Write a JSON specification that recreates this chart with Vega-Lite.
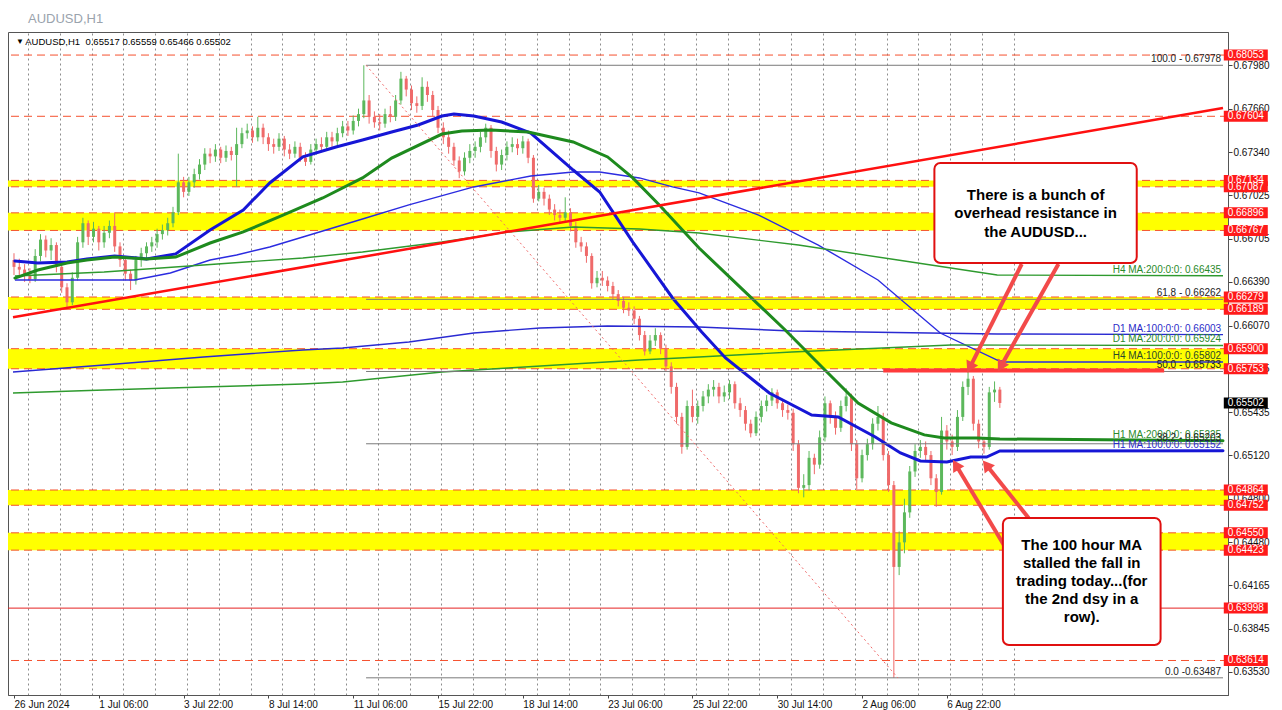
{
"$schema": "https://vega.github.io/schema/vega-lite/v6.json",
"width": 1220, "height": 663,
"autosize": {"type": "none"},
"padding": {"left": 8, "top": 32, "right": 54, "bottom": 15},
"background": "#ffffff",
"title": {"text": "AUDUSD,H1", "anchor": "start", "frame": "group", "offset": -4, "dx": 20, "fontSize": 13, "fontWeight": "normal", "color": "#9aa3ad", "font": "Liberation Sans", "baseline": "alphabetic"},
"config": {"font": "Liberation Sans", "view": {"stroke": "#555555", "strokeWidth": 1}},
"data": {"values": [{}]},
"datasets": {
"candles": [
{"t":0,"o":0.6655,"h":0.6660,"l":0.6644,"c":0.6650},
{"t":4,"o":0.6650,"h":0.6656,"l":0.6643,"c":0.6648},
{"t":8,"o":0.6648,"h":0.6652,"l":0.6639,"c":0.6644},
{"t":12,"o":0.6644,"h":0.6649,"l":0.6638,"c":0.6641},
{"t":16,"o":0.6641,"h":0.6663,"l":0.6639,"c":0.6658},
{"t":20,"o":0.6658,"h":0.6674,"l":0.6654,"c":0.6670},
{"t":24,"o":0.6670,"h":0.6673,"l":0.6657,"c":0.6662},
{"t":28,"o":0.6662,"h":0.6671,"l":0.6655,"c":0.6666},
{"t":32,"o":0.6666,"h":0.6668,"l":0.6646,"c":0.6650},
{"t":36,"o":0.6650,"h":0.6654,"l":0.6631,"c":0.6635},
{"t":40,"o":0.6635,"h":0.6638,"l":0.6620,"c":0.6624},
{"t":44,"o":0.6624,"h":0.6646,"l":0.6622,"c":0.6642},
{"t":48,"o":0.6642,"h":0.6672,"l":0.6640,"c":0.6668},
{"t":52,"o":0.6668,"h":0.6686,"l":0.6664,"c":0.6682},
{"t":56,"o":0.6682,"h":0.6684,"l":0.6666,"c":0.6672},
{"t":60,"o":0.6672,"h":0.6683,"l":0.6668,"c":0.6678},
{"t":64,"o":0.6678,"h":0.6680,"l":0.6662,"c":0.6668},
{"t":68,"o":0.6668,"h":0.6680,"l":0.6664,"c":0.6675},
{"t":72,"o":0.6675,"h":0.6684,"l":0.6671,"c":0.6680},
{"t":76,"o":0.6680,"h":0.6690,"l":0.6661,"c":0.6665},
{"t":80,"o":0.6665,"h":0.6668,"l":0.6650,"c":0.6655},
{"t":84,"o":0.6655,"h":0.6658,"l":0.6640,"c":0.6645},
{"t":88,"o":0.6645,"h":0.6648,"l":0.6633,"c":0.6640},
{"t":92,"o":0.6640,"h":0.6658,"l":0.6637,"c":0.6655},
{"t":96,"o":0.6655,"h":0.6664,"l":0.6650,"c":0.6660},
{"t":100,"o":0.6660,"h":0.6668,"l":0.6655,"c":0.6665},
{"t":104,"o":0.6665,"h":0.6672,"l":0.6661,"c":0.6668},
{"t":108,"o":0.6668,"h":0.6678,"l":0.6664,"c":0.6674},
{"t":112,"o":0.6674,"h":0.6681,"l":0.6670,"c":0.6677},
{"t":116,"o":0.6677,"h":0.6686,"l":0.6673,"c":0.6682},
{"t":120,"o":0.6682,"h":0.6694,"l":0.6679,"c":0.6690},
{"t":124,"o":0.6690,"h":0.6733,"l":0.6688,"c":0.6712},
{"t":128,"o":0.6712,"h":0.6716,"l":0.6701,"c":0.6705},
{"t":132,"o":0.6705,"h":0.6716,"l":0.6702,"c":0.6712},
{"t":136,"o":0.6712,"h":0.6722,"l":0.6708,"c":0.6718},
{"t":140,"o":0.6718,"h":0.6729,"l":0.6714,"c":0.6725},
{"t":144,"o":0.6725,"h":0.6737,"l":0.6721,"c":0.6733},
{"t":148,"o":0.6733,"h":0.6737,"l":0.6726,"c":0.6731},
{"t":152,"o":0.6731,"h":0.6740,"l":0.6727,"c":0.6736},
{"t":156,"o":0.6736,"h":0.6738,"l":0.6726,"c":0.6730},
{"t":160,"o":0.6730,"h":0.6739,"l":0.6727,"c":0.6735},
{"t":164,"o":0.6735,"h":0.6738,"l":0.6728,"c":0.6732},
{"t":168,"o":0.6732,"h":0.6752,"l":0.6709,"c":0.6740},
{"t":172,"o":0.6740,"h":0.6752,"l":0.6737,"c":0.6748},
{"t":176,"o":0.6748,"h":0.6755,"l":0.6744,"c":0.6750},
{"t":180,"o":0.6750,"h":0.6753,"l":0.6741,"c":0.6745},
{"t":184,"o":0.6745,"h":0.6760,"l":0.6742,"c":0.6752},
{"t":188,"o":0.6752,"h":0.6755,"l":0.6740,"c":0.6745},
{"t":192,"o":0.6745,"h":0.6748,"l":0.6735,"c":0.6740},
{"t":196,"o":0.6740,"h":0.6744,"l":0.6733,"c":0.6738},
{"t":200,"o":0.6738,"h":0.6748,"l":0.6735,"c":0.6744},
{"t":204,"o":0.6744,"h":0.6746,"l":0.6731,"c":0.6736},
{"t":208,"o":0.6736,"h":0.6740,"l":0.6729,"c":0.6733},
{"t":212,"o":0.6733,"h":0.6742,"l":0.6730,"c":0.6738},
{"t":216,"o":0.6738,"h":0.6741,"l":0.6727,"c":0.6730},
{"t":220,"o":0.6730,"h":0.6734,"l":0.6724,"c":0.6727},
{"t":224,"o":0.6727,"h":0.6740,"l":0.6725,"c":0.6736},
{"t":228,"o":0.6736,"h":0.6744,"l":0.6732,"c":0.6740},
{"t":232,"o":0.6740,"h":0.6745,"l":0.6734,"c":0.6738},
{"t":236,"o":0.6738,"h":0.6749,"l":0.6735,"c":0.6745},
{"t":240,"o":0.6745,"h":0.6749,"l":0.6738,"c":0.6742},
{"t":244,"o":0.6742,"h":0.6752,"l":0.6739,"c":0.6748},
{"t":248,"o":0.6748,"h":0.6757,"l":0.6745,"c":0.6753},
{"t":252,"o":0.6753,"h":0.6757,"l":0.6746,"c":0.6750},
{"t":256,"o":0.6750,"h":0.6761,"l":0.6747,"c":0.6757},
{"t":260,"o":0.6757,"h":0.6766,"l":0.6753,"c":0.6762},
{"t":264,"o":0.6762,"h":0.67978,"l":0.6759,"c":0.6772},
{"t":268,"o":0.6772,"h":0.6776,"l":0.6755,"c":0.6760},
{"t":272,"o":0.6760,"h":0.6764,"l":0.6752,"c":0.6756},
{"t":276,"o":0.6756,"h":0.6762,"l":0.6750,"c":0.6755},
{"t":280,"o":0.6755,"h":0.6766,"l":0.6752,"c":0.6762},
{"t":284,"o":0.6762,"h":0.6768,"l":0.6756,"c":0.6760},
{"t":288,"o":0.6760,"h":0.6776,"l":0.6757,"c":0.6772},
{"t":292,"o":0.6772,"h":0.6793,"l":0.6769,"c":0.6788},
{"t":296,"o":0.6788,"h":0.6790,"l":0.6775,"c":0.6780},
{"t":300,"o":0.6780,"h":0.6783,"l":0.6765,"c":0.6770},
{"t":304,"o":0.6770,"h":0.6775,"l":0.6763,"c":0.6768},
{"t":308,"o":0.6768,"h":0.6789,"l":0.6765,"c":0.6782},
{"t":312,"o":0.6782,"h":0.6786,"l":0.6771,"c":0.6776},
{"t":316,"o":0.6776,"h":0.6779,"l":0.6760,"c":0.6765},
{"t":320,"o":0.6765,"h":0.6768,"l":0.6748,"c":0.6752},
{"t":324,"o":0.6752,"h":0.6756,"l":0.6740,"c":0.6745},
{"t":328,"o":0.6745,"h":0.6750,"l":0.6733,"c":0.6738},
{"t":332,"o":0.6738,"h":0.6741,"l":0.6724,"c":0.6728},
{"t":336,"o":0.6728,"h":0.6731,"l":0.6715,"c":0.6720},
{"t":340,"o":0.6720,"h":0.6734,"l":0.6717,"c":0.6730},
{"t":344,"o":0.6730,"h":0.6740,"l":0.6726,"c":0.6735},
{"t":348,"o":0.6735,"h":0.6742,"l":0.6730,"c":0.6738},
{"t":352,"o":0.6738,"h":0.6749,"l":0.6734,"c":0.6745},
{"t":356,"o":0.6745,"h":0.6755,"l":0.6741,"c":0.6752},
{"t":360,"o":0.6752,"h":0.6754,"l":0.6730,"c":0.6735},
{"t":364,"o":0.6735,"h":0.6738,"l":0.6720,"c":0.6725},
{"t":368,"o":0.6725,"h":0.6736,"l":0.6721,"c":0.6732},
{"t":372,"o":0.6732,"h":0.6742,"l":0.6728,"c":0.6738},
{"t":376,"o":0.6738,"h":0.6745,"l":0.6734,"c":0.6740},
{"t":380,"o":0.6740,"h":0.6744,"l":0.6732,"c":0.6737},
{"t":384,"o":0.6737,"h":0.6746,"l":0.6733,"c":0.6742},
{"t":388,"o":0.6742,"h":0.6744,"l":0.6726,"c":0.6730},
{"t":392,"o":0.6730,"h":0.6732,"l":0.6697,"c":0.6700},
{"t":396,"o":0.6700,"h":0.6710,"l":0.6698,"c":0.6705},
{"t":400,"o":0.6705,"h":0.6708,"l":0.6695,"c":0.6700},
{"t":404,"o":0.6700,"h":0.6703,"l":0.6688,"c":0.6692},
{"t":408,"o":0.6692,"h":0.6696,"l":0.6684,"c":0.6688},
{"t":412,"o":0.6688,"h":0.6692,"l":0.6682,"c":0.6686},
{"t":416,"o":0.6686,"h":0.6701,"l":0.6683,"c":0.6690},
{"t":420,"o":0.6690,"h":0.6693,"l":0.6676,"c":0.6680},
{"t":424,"o":0.6680,"h":0.6683,"l":0.6664,"c":0.6668},
{"t":428,"o":0.6668,"h":0.6672,"l":0.6661,"c":0.6665},
{"t":432,"o":0.6665,"h":0.6668,"l":0.6653,"c":0.6658},
{"t":436,"o":0.6658,"h":0.6660,"l":0.6634,"c":0.6638},
{"t":440,"o":0.6638,"h":0.6647,"l":0.6635,"c":0.6642},
{"t":444,"o":0.6642,"h":0.6647,"l":0.6636,"c":0.6640},
{"t":448,"o":0.6640,"h":0.6643,"l":0.6632,"c":0.6636},
{"t":452,"o":0.6636,"h":0.6639,"l":0.6626,"c":0.6630},
{"t":456,"o":0.6630,"h":0.6633,"l":0.6621,"c":0.6625},
{"t":460,"o":0.6625,"h":0.6628,"l":0.6616,"c":0.6620},
{"t":464,"o":0.6620,"h":0.6624,"l":0.6614,"c":0.6618},
{"t":468,"o":0.6618,"h":0.6621,"l":0.6608,"c":0.6612},
{"t":472,"o":0.6612,"h":0.6614,"l":0.6596,"c":0.6600},
{"t":476,"o":0.6600,"h":0.6603,"l":0.6585,"c":0.6588},
{"t":480,"o":0.6588,"h":0.6600,"l":0.6586,"c":0.6596},
{"t":484,"o":0.6596,"h":0.6605,"l":0.6592,"c":0.6600},
{"t":488,"o":0.6600,"h":0.6602,"l":0.6586,"c":0.6590},
{"t":492,"o":0.6590,"h":0.6593,"l":0.6573,"c":0.6577},
{"t":496,"o":0.6577,"h":0.6580,"l":0.6557,"c":0.6562},
{"t":500,"o":0.6562,"h":0.6565,"l":0.6535,"c":0.6540},
{"t":504,"o":0.6540,"h":0.6543,"l":0.6513,"c":0.6518},
{"t":508,"o":0.6518,"h":0.6552,"l":0.6516,"c":0.6548},
{"t":512,"o":0.6548,"h":0.6560,"l":0.6536,"c":0.6540},
{"t":516,"o":0.6540,"h":0.6552,"l":0.6535,"c":0.6548},
{"t":520,"o":0.6548,"h":0.6559,"l":0.6544,"c":0.6555},
{"t":524,"o":0.6555,"h":0.6564,"l":0.6550,"c":0.6560},
{"t":528,"o":0.6560,"h":0.6567,"l":0.6555,"c":0.6562},
{"t":532,"o":0.6562,"h":0.6565,"l":0.6550,"c":0.6555},
{"t":536,"o":0.6555,"h":0.6563,"l":0.6551,"c":0.6558},
{"t":540,"o":0.6558,"h":0.6567,"l":0.6553,"c":0.6564},
{"t":544,"o":0.6564,"h":0.6566,"l":0.6546,"c":0.6550},
{"t":548,"o":0.6550,"h":0.6554,"l":0.6540,"c":0.6545},
{"t":552,"o":0.6545,"h":0.6548,"l":0.6530,"c":0.6535},
{"t":556,"o":0.6535,"h":0.6538,"l":0.6525,"c":0.6528},
{"t":560,"o":0.6528,"h":0.6544,"l":0.6526,"c":0.6540},
{"t":564,"o":0.6540,"h":0.6552,"l":0.6536,"c":0.6548},
{"t":568,"o":0.6548,"h":0.6556,"l":0.6544,"c":0.6552},
{"t":572,"o":0.6552,"h":0.6561,"l":0.6548,"c":0.6558},
{"t":576,"o":0.6558,"h":0.6560,"l":0.6546,"c":0.6550},
{"t":580,"o":0.6550,"h":0.6553,"l":0.6540,"c":0.6545},
{"t":584,"o":0.6545,"h":0.6549,"l":0.6538,"c":0.6543},
{"t":588,"o":0.6543,"h":0.6546,"l":0.6515,"c":0.6520},
{"t":592,"o":0.6520,"h":0.6523,"l":0.6484,"c":0.6488},
{"t":596,"o":0.6488,"h":0.6498,"l":0.6481,"c":0.6490},
{"t":600,"o":0.6490,"h":0.6515,"l":0.6486,"c":0.6510},
{"t":604,"o":0.6510,"h":0.6513,"l":0.6498,"c":0.6505},
{"t":608,"o":0.6505,"h":0.6530,"l":0.6502,"c":0.6525},
{"t":612,"o":0.6525,"h":0.6555,"l":0.6522,"c":0.6550},
{"t":616,"o":0.6550,"h":0.6552,"l":0.6535,"c":0.6540},
{"t":620,"o":0.6540,"h":0.6544,"l":0.6527,"c":0.6532},
{"t":624,"o":0.6532,"h":0.6552,"l":0.6529,"c":0.6548},
{"t":628,"o":0.6548,"h":0.6561,"l":0.6544,"c":0.6555},
{"t":632,"o":0.6555,"h":0.6557,"l":0.6515,"c":0.6520},
{"t":636,"o":0.6520,"h":0.6523,"l":0.6487,"c":0.6495},
{"t":640,"o":0.6495,"h":0.6516,"l":0.6492,"c":0.6512},
{"t":644,"o":0.6512,"h":0.6524,"l":0.6508,"c":0.6520},
{"t":648,"o":0.6520,"h":0.6539,"l":0.6516,"c":0.6535},
{"t":652,"o":0.6535,"h":0.6548,"l":0.6530,"c":0.6540},
{"t":656,"o":0.6540,"h":0.6543,"l":0.6508,"c":0.6512},
{"t":660,"o":0.6512,"h":0.6515,"l":0.6485,"c":0.6490},
{"t":664,"o":0.6490,"h":0.6493,"l":0.63487,"c":0.6430},
{"t":668,"o":0.6430,"h":0.6456,"l":0.6424,"c":0.6448},
{"t":672,"o":0.6448,"h":0.6480,"l":0.6440,"c":0.6470},
{"t":676,"o":0.6470,"h":0.6504,"l":0.6466,"c":0.6500},
{"t":680,"o":0.6500,"h":0.6520,"l":0.6496,"c":0.6515},
{"t":684,"o":0.6515,"h":0.6523,"l":0.6510,"c":0.6518},
{"t":688,"o":0.6518,"h":0.6522,"l":0.6507,"c":0.6512},
{"t":692,"o":0.6512,"h":0.6515,"l":0.6490,"c":0.6495},
{"t":696,"o":0.6495,"h":0.6498,"l":0.6474,"c":0.6485},
{"t":700,"o":0.6485,"h":0.6540,"l":0.6483,"c":0.6530},
{"t":704,"o":0.6530,"h":0.6534,"l":0.6516,"c":0.6522},
{"t":708,"o":0.6522,"h":0.6527,"l":0.6512,"c":0.6518},
{"t":712,"o":0.6518,"h":0.6545,"l":0.6515,"c":0.6540},
{"t":716,"o":0.6540,"h":0.6566,"l":0.6537,"c":0.6562},
{"t":720,"o":0.6562,"h":0.6575,"l":0.6556,"c":0.6568},
{"t":724,"o":0.6568,"h":0.6570,"l":0.6530,"c":0.6535},
{"t":728,"o":0.6535,"h":0.6538,"l":0.6517,"c":0.6522},
{"t":732,"o":0.6522,"h":0.6525,"l":0.6513,"c":0.6518},
{"t":736,"o":0.6518,"h":0.6562,"l":0.6516,"c":0.6558},
{"t":740,"o":0.6558,"h":0.6566,"l":0.6551,"c":0.6560},
{"t":744,"o":0.6560,"h":0.6562,"l":0.65466,"c":0.65502}
],
"ma": [
{"s":"H1_100","t":0.7,"p":0.66543},{"s":"H1_100","t":18,"p":0.66528},{"s":"H1_100","t":40,"p":0.66536},{"s":"H1_100","t":55,"p":0.66558},{"s":"H1_100","t":76,"p":0.6658},{"s":"H1_100","t":93,"p":0.66565},{"s":"H1_100","t":100,"p":0.66558},{"s":"H1_100","t":122,"p":0.66595},{"s":"H1_100","t":148,"p":0.6677},{"s":"H1_100","t":173,"p":0.66917},{"s":"H1_100","t":193,"p":0.67115},{"s":"H1_100","t":218,"p":0.67306},{"s":"H1_100","t":243,"p":0.67379},{"s":"H1_100","t":263,"p":0.6743},{"s":"H1_100","t":285,"p":0.67489},{"s":"H1_100","t":305,"p":0.6754},{"s":"H1_100","t":323,"p":0.67606},{"s":"H1_100","t":332,"p":0.67621},{"s":"H1_100","t":347,"p":0.67606},{"s":"H1_100","t":368,"p":0.67562},{"s":"H1_100","t":390,"p":0.67481},{"s":"H1_100","t":422,"p":0.6721},{"s":"H1_100","t":442,"p":0.67049},{"s":"H1_100","t":467,"p":0.66682},{"s":"H1_100","t":497,"p":0.66272},{"s":"H1_100","t":519,"p":0.66023},{"s":"H1_100","t":537,"p":0.65832},{"s":"H1_100","t":570,"p":0.65575},{"s":"H1_100","t":602,"p":0.65414},{"s":"H1_100","t":622,"p":0.65399},{"s":"H1_100","t":650,"p":0.65253},{"s":"H1_100","t":669,"p":0.65136},{"s":"H1_100","t":684,"p":0.65077},{"s":"H1_100","t":704,"p":0.6507},{"s":"H1_100","t":722,"p":0.65106},{"s":"H1_100","t":734,"p":0.65106},{"s":"H1_100","t":744,"p":0.6515},{"s":"H1_100","t":912.4,"p":0.65152},
{"s":"H1_200","t":0.7,"p":0.66418},{"s":"H1_200","t":18,"p":0.66477},{"s":"H1_200","t":40,"p":0.66528},{"s":"H1_200","t":55,"p":0.6655},{"s":"H1_200","t":76,"p":0.66572},{"s":"H1_200","t":100,"p":0.66558},{"s":"H1_200","t":122,"p":0.66572},{"s":"H1_200","t":148,"p":0.66675},{"s":"H1_200","t":173,"p":0.66756},{"s":"H1_200","t":203,"p":0.6688},{"s":"H1_200","t":233,"p":0.67005},{"s":"H1_200","t":263,"p":0.67152},{"s":"H1_200","t":285,"p":0.67298},{"s":"H1_200","t":323,"p":0.67474},{"s":"H1_200","t":338,"p":0.67496},{"s":"H1_200","t":360,"p":0.67503},{"s":"H1_200","t":388,"p":0.67489},{"s":"H1_200","t":422,"p":0.67416},{"s":"H1_200","t":448,"p":0.67306},{"s":"H1_200","t":467,"p":0.67152},{"s":"H1_200","t":487,"p":0.66954},{"s":"H1_200","t":517,"p":0.66638},{"s":"H1_200","t":582,"p":0.66037},{"s":"H1_200","t":612,"p":0.65744},{"s":"H1_200","t":637,"p":0.65502},{"s":"H1_200","t":662,"p":0.65356},{"s":"H1_200","t":687,"p":0.65268},{"s":"H1_200","t":702,"p":0.65246},{"s":"H1_200","t":727,"p":0.65246},{"s":"H1_200","t":744,"p":0.65238},{"s":"H1_200","t":912.4,"p":0.65225},
{"s":"H4_100","t":0.7,"p":0.66404},{"s":"H4_100","t":91,"p":0.66404},{"s":"H4_100","t":118,"p":0.66455},{"s":"H4_100","t":148,"p":0.6655},{"s":"H4_100","t":168,"p":0.66587},{"s":"H4_100","t":193,"p":0.66646},{"s":"H4_100","t":218,"p":0.66719},{"s":"H4_100","t":243,"p":0.66792},{"s":"H4_100","t":263,"p":0.66851},{"s":"H4_100","t":298,"p":0.66954},{"s":"H4_100","t":347,"p":0.67086},{"s":"H4_100","t":390,"p":0.67166},{"s":"H4_100","t":422,"p":0.67196},{"s":"H4_100","t":442,"p":0.67196},{"s":"H4_100","t":472,"p":0.67152},{"s":"H4_100","t":497,"p":0.67086},{"s":"H4_100","t":517,"p":0.67042},{"s":"H4_100","t":562,"p":0.6688},{"s":"H4_100","t":607,"p":0.6666},{"s":"H4_100","t":652,"p":0.66404},{"s":"H4_100","t":699,"p":0.66015},{"s":"H4_100","t":742,"p":0.65817},{"s":"H4_100","t":749,"p":0.65802},{"s":"H4_100","t":912.4,"p":0.65802},
{"s":"H4_200","t":0.7,"p":0.66433},{"s":"H4_200","t":68,"p":0.66462},{"s":"H4_200","t":143,"p":0.66514},{"s":"H4_200","t":218,"p":0.66565},{"s":"H4_200","t":263,"p":0.66609},{"s":"H4_200","t":323,"p":0.66682},{"s":"H4_200","t":373,"p":0.66756},{"s":"H4_200","t":422,"p":0.66792},{"s":"H4_200","t":472,"p":0.66778},{"s":"H4_200","t":517,"p":0.66748},{"s":"H4_200","t":592,"p":0.6666},{"s":"H4_200","t":667,"p":0.6655},{"s":"H4_200","t":742,"p":0.6644},{"s":"H4_200","t":912.4,"p":0.66435},
{"s":"D1_100","t":-0.75,"p":0.65729},{"s":"D1_100","t":68,"p":0.65781},{"s":"D1_100","t":143,"p":0.65839},{"s":"D1_100","t":218,"p":0.65891},{"s":"D1_100","t":248,"p":0.65905},{"s":"D1_100","t":298,"p":0.65949},{"s":"D1_100","t":347,"p":0.66015},{"s":"D1_100","t":397,"p":0.66052},{"s":"D1_100","t":448,"p":0.66066},{"s":"D1_100","t":517,"p":0.66059},{"s":"D1_100","t":587,"p":0.6603},{"s":"D1_100","t":742,"p":0.66008},{"s":"D1_100","t":912.4,"p":0.66003},
{"s":"D1_200","t":-0.75,"p":0.65575},{"s":"D1_200","t":68,"p":0.65597},{"s":"D1_200","t":143,"p":0.65619},{"s":"D1_200","t":218,"p":0.65641},{"s":"D1_200","t":248,"p":0.65656},{"s":"D1_200","t":323,"p":0.65729},{"s":"D1_200","t":373,"p":0.65759},{"s":"D1_200","t":422,"p":0.65788},{"s":"D1_200","t":472,"p":0.65817},{"s":"D1_200","t":517,"p":0.65839},{"s":"D1_200","t":587,"p":0.65876},{"s":"D1_200","t":707,"p":0.65927},{"s":"D1_200","t":912.4,"p":0.65924}
],
"levels": [
{"p":0.68053},{"p":0.67604},{"p":0.67087},{"p":0.67134},{"p":0.66896},{"p":0.66767},{"p":0.66279},{"p":0.66189},{"p":0.659},{"p":0.65753},{"p":0.64864},{"p":0.64752},{"p":0.6455},{"p":0.64423},{"p":0.63998},{"p":0.63614}
],
"bands": [
{"lo":0.67087,"hi":0.67134},{"lo":0.66767,"hi":0.66896},{"lo":0.66189,"hi":0.66279},{"lo":0.65753,"hi":0.659},{"lo":0.64752,"hi":0.64864},{"lo":0.64423,"hi":0.6455}
],
"fib": [
{"p":0.67978,"txt":"100.0 - 0.67978"},{"p":0.66262,"txt":"61.8 - 0.66262"},{"p":0.65733,"txt":"50.0 - 0.65733"},{"p":0.65203,"txt":"38.2 - 0.65203"},{"p":0.63487,"txt":"0.0 -0.63487"}
],
"malab": [
{"s":"H4_200","txt":"H4 MA:200:0:0: 0.66435","p":0.66435},
{"s":"D1_100","txt":"D1 MA:100:0:0: 0.66003","p":0.66003},
{"s":"D1_200","txt":"D1 MA:200:0:0: 0.65924","p":0.65924},
{"s":"H4_100","txt":"H4 MA:100:0:0: 0.65802","p":0.65802},
{"s":"H1_200","txt":"H1 MA:200:0:0: 0.65225","p":0.65225},
{"s":"H1_100","txt":"H1 MA:100:0:0: 0.65152","p":0.65152}
]
},
"resolve": {"axis": {"x": "independent", "y": "independent"}},
"layer": [
{"data":{"name":"bands"},"mark":{"type":"rect","color":"#ffff00"},
 "encoding":{"y":{"field":"lo","type":"quantitative","axis":null,"scale":{"domain":[0.63361,0.68222],"nice":false,"zero":false}},"y2":{"field":"hi"}}},
{"data":{"name":"levels"},"transform":[{"filter":"datum.p != 0.63998"}],"mark":{"type":"rule","color":"#f5512f","strokeDash":[8,5],"strokeWidth":1},
 "encoding":{"y":{"field":"p","type":"quantitative","axis":null}}},
{"data":{"name":"levels"},"transform":[{"filter":"datum.p == 0.63998"}],"mark":{"type":"rule","color":"#e52222","strokeWidth":1},
 "encoding":{"y":{"field":"p","type":"quantitative","axis":null}}},
{"data":{"name":"candles"},"mark":{"type":"rule","strokeWidth":1},
 "encoding":{"x":{"field":"t","type":"quantitative","scale":{"domain":[-0.75,912.4],"nice":false,"zero":false},
   "axis":{"orient":"top","values":[10.5,34.5,58.5,82.5,106.5,130.5,154.5,178.5,202.5,226.5,250.5,274.5,298.5,322.5,346.5,370.5,394.5,418.5,442.5,466.5,490.5,514.5,538.5,562.5,586.5,610.5,634.5,658.5,682.5,706.5,730.5,754.5],"labels":false,"ticks":false,"domain":false,"grid":true,"gridDash":[2,3],"gridColor":"#8c8c8c","gridWidth":1,"title":null}},
  "y":{"field":"l","type":"quantitative","axis":null},"y2":{"field":"h"},
  "color":{"condition":{"test":"datum.c >= datum.o","value":"#5cb85c"},"value":"#ef6a6a"}}},
{"data":{"name":"candles"},"mark":{"type":"bar","width":3},
 "encoding":{"x":{"field":"t","type":"quantitative","scale":{"domain":[-0.75,912.4],"nice":false,"zero":false},
   "axis":{"orient":"bottom","values":[0,64,128,192,256,320,384,448,512,576,640,704],"labelExpr":"['26 Jun 2024','1 Jul 06:00','3 Jul 22:00','8 Jul 14:00','11 Jul 06:00','15 Jul 22:00','18 Jul 14:00','23 Jul 06:00','25 Jul 22:00','30 Jul 14:00','2 Aug 06:00','6 Aug 22:00'][round(datum.value/64)]","labelAlign":"left","labelBaseline":"top","labelFontSize":10,"labelFont":"Liberation Sans","labelColor":"#111111","labelPadding":1,"labelDx":1,"labelFlush":false,"labelOverlap":false,"tickSize":3,"tickColor":"#444444","domainColor":"#555555","grid":false,"title":null}},
  "y":{"field":"o","type":"quantitative","scale":{"domain":[0.63361,0.68222],"nice":false,"zero":false},
   "axis":{"orient":"right","values":[0.6798,0.6766,0.6734,0.67025,0.66705,0.6639,0.6607,0.65755,0.65435,0.6512,0.648,0.6448,0.64165,0.63845,0.6353],"format":".5f","title":null,"grid":false,"tickSize":4,"tickColor":"#444444","domainColor":"#555555","labelFontSize":10,"labelFont":"Liberation Sans","labelColor":"#111111","labelPadding":1}},
  "y2":{"field":"c"},
  "color":{"condition":{"test":"datum.c >= datum.o","value":"#5cb85c"},"value":"#ef6a6a"}}},
{"data":{"name":"ma"},"transform":[{"filter":"datum.s=='H4_100'||datum.s=='H4_200'||datum.s=='D1_100'||datum.s=='D1_200'"}],"mark":{"type":"line","strokeWidth":1.4},
 "encoding":{"x":{"field":"t","type":"quantitative","axis":null},"y":{"field":"p","type":"quantitative","axis":null},
  "color":{"field":"s","type":"nominal","legend":null,"scale":{"domain":["H1_100","H1_200","H4_100","H4_200","D1_100","D1_200"],"range":["#1616d6","#1e8a1e","#2b2be0","#2e9a2e","#2a2ad2","#2e9a2e"]}}}},
{"data":{"name":"ma"},"transform":[{"filter":"datum.s=='H1_100'||datum.s=='H1_200'"}],"mark":{"type":"line","strokeWidth":3,"strokeCap":"round"},
 "encoding":{"x":{"field":"t","type":"quantitative","axis":null},"y":{"field":"p","type":"quantitative","axis":null},
  "color":{"field":"s","type":"nominal","legend":null,"scale":{"domain":["H1_100","H1_200","H4_100","H4_200","D1_100","D1_200"],"range":["#1616d6","#1e8a1e","#2b2be0","#2e9a2e","#2a2ad2","#2e9a2e"]}}}},
{"data":{"name":"fib"},"mark":{"type":"rule","color":"#7a7a7a","strokeWidth":1},
 "encoding":{"x":{"datum":265.7,"type":"quantitative","axis":null},"x2":{"datum":912.4},"y":{"field":"p","type":"quantitative","axis":null}}},
{"mark":{"type":"rule","color":"#f06a6a","strokeWidth":1,"strokeDash":[2,3]},
 "encoding":{"x":{"datum":265.7,"type":"quantitative","axis":null},"y":{"datum":0.67978,"type":"quantitative","axis":null},"x2":{"datum":667},"y2":{"datum":0.63487}}},
{"mark":{"type":"rule","color":"#ff1010","strokeWidth":2.5},
 "encoding":{"x":{"datum":-0.75,"type":"quantitative","axis":null},"y":{"datum":0.6613,"type":"quantitative","axis":null},"x2":{"datum":912.4},"y2":{"datum":0.67665}}},
{"mark":{"type":"rule","color":"#ff3b3b","strokeWidth":4},
 "encoding":{"x":{"datum":656,"type":"quantitative","axis":null},"x2":{"datum":868},"y":{"datum":0.6574,"type":"quantitative","axis":null}}},
{"mark":{"type":"rule","color":"#f24a4a","strokeWidth":4},
 "encoding":{"x":{"datum":760.5,"type":"quantitative","axis":null},"y":{"datum":0.66521,"type":"quantitative","axis":null},"x2":{"datum":721.5},"y2":{"datum":0.65765}}},
{"mark":{"type":"rule","color":"#f24a4a","strokeWidth":4},
 "encoding":{"x":{"datum":788.2,"type":"quantitative","axis":null},"y":{"datum":0.66521,"type":"quantitative","axis":null},"x2":{"datum":744.8},"y2":{"datum":0.65772}}},
{"mark":{"type":"rule","color":"#f24a4a","strokeWidth":4},
 "encoding":{"x":{"datum":749.3,"type":"quantitative","axis":null},"y":{"datum":0.64424,"type":"quantitative","axis":null},"x2":{"datum":711},"y2":{"datum":0.65045}}},
{"mark":{"type":"rule","color":"#f24a4a","strokeWidth":4},
 "encoding":{"x":{"datum":765.7,"type":"quantitative","axis":null},"y":{"datum":0.64659,"type":"quantitative","axis":null},"x2":{"datum":734},"y2":{"datum":0.65045}}},
{"mark":{"type":"point","shape":"triangle-up","angle":206.8,"size":170,"filled":true,"opacity":1,"color":"#f24a4a"},
 "encoding":{"x":{"datum":721.3,"type":"quantitative","axis":null},"y":{"datum":0.65762,"type":"quantitative","axis":null}}},
{"mark":{"type":"point","shape":"triangle-up","angle":209.5,"size":170,"filled":true,"opacity":1,"color":"#f24a4a"},
 "encoding":{"x":{"datum":744.6,"type":"quantitative","axis":null},"y":{"datum":0.65769,"type":"quantitative","axis":null}}},
{"mark":{"type":"point","shape":"triangle-up","angle":328.9,"size":170,"filled":true,"opacity":1,"color":"#f24a4a"},
 "encoding":{"x":{"datum":710.8,"type":"quantitative","axis":null},"y":{"datum":0.65048,"type":"quantitative","axis":null}}},
{"mark":{"type":"point","shape":"triangle-up","angle":321.8,"size":170,"filled":true,"opacity":1,"color":"#f24a4a"},
 "encoding":{"x":{"datum":733.8,"type":"quantitative","axis":null},"y":{"datum":0.65048,"type":"quantitative","axis":null}}},
{"mark":{"type":"rect","fill":"#ffffff","stroke":"#e01010","strokeWidth":2,"cornerRadius":6},
 "encoding":{"x":{"datum":694.6,"type":"quantitative","axis":null},"x2":{"datum":847.3},"y":{"datum":0.67262,"type":"quantitative","axis":null},"y2":{"datum":0.66528}}},
{"mark":{"type":"rect","fill":"#ffffff","stroke":"#e01010","strokeWidth":2,"cornerRadius":6},
 "encoding":{"x":{"datum":746.3,"type":"quantitative","axis":null},"x2":{"datum":865.3},"y":{"datum":0.64659,"type":"quantitative","axis":null},"y2":{"datum":0.63728}}},
{"mark":{"type":"text","font":"Liberation Sans","fontWeight":"bold","fontSize":15,"color":"#000000","align":"center","baseline":"middle","lineHeight":18.5},
 "encoding":{"x":{"datum":771,"type":"quantitative","axis":null},"y":{"datum":0.67027,"type":"quantitative","axis":null},"text":{"value":["There is a bunch of","overhead resistance in","the AUDUSD..."]}}},
{"mark":{"type":"text","font":"Liberation Sans","fontWeight":"bold","fontSize":15,"color":"#000000","align":"center","baseline":"middle","lineHeight":18},
 "encoding":{"x":{"datum":805.8,"type":"quantitative","axis":null},"y":{"datum":0.64461,"type":"quantitative","axis":null},"text":{"value":["The 100 hour MA","stalled the fall in","trading today...(for","the 2nd dsy in a","row)."]}}},
{"data":{"name":"malab"},"mark":{"type":"text","align":"right","baseline":"bottom","dy":-1,"fontSize":10},
 "encoding":{"x":{"datum":911,"type":"quantitative","axis":null},"y":{"field":"p","type":"quantitative","axis":null},"text":{"field":"txt"},
  "color":{"condition":[{"test":"datum.s=='H4_200'||datum.s=='D1_200'||datum.s=='H1_200'","value":"#2a8a2a"},{"test":"datum.s=='H4_100'","value":"#2b4a2b"}],"value":"#2b2bc8"}}},
{"data":{"name":"fib"},"mark":{"type":"text","align":"right","baseline":"bottom","dy":-1,"fontSize":10,"color":"#222222"},
 "encoding":{"x":{"datum":911,"type":"quantitative","axis":null},"y":{"field":"p","type":"quantitative","axis":null},"text":{"field":"txt"}}},
{"data":{"name":"levels"},"mark":{"type":"tick","orient":"horizontal","size":44,"thickness":11,"color":"#ff1a1a","opacity":1},
 "encoding":{"x":{"datum":929.6,"type":"quantitative","axis":null},"y":{"field":"p","type":"quantitative","axis":null}}},
{"data":{"name":"levels"},"mark":{"type":"text","align":"center","baseline":"middle","fontSize":10,"color":"#ffffff"},
 "encoding":{"x":{"datum":929.6,"type":"quantitative","axis":null},"y":{"field":"p","type":"quantitative","axis":null},"text":{"field":"p","format":".5f"}}},
{"mark":{"type":"tick","orient":"horizontal","size":44,"thickness":11,"color":"#000000","opacity":1},
 "encoding":{"x":{"datum":929.6,"type":"quantitative","axis":null},"y":{"datum":0.65502,"type":"quantitative","axis":null}}},
{"mark":{"type":"text","align":"center","baseline":"middle","fontSize":10,"color":"#ffffff"},
 "encoding":{"x":{"datum":929.6,"type":"quantitative","axis":null},"y":{"datum":0.65502,"type":"quantitative","axis":null},"text":{"value":"0.65502"}}},
{"mark":{"type":"text","align":"left","baseline":"middle","fontSize":8,"color":"#000000"},
 "encoding":{"x":{"datum":1.5,"type":"quantitative","axis":null},"y":{"datum":0.68149,"type":"quantitative","axis":null},"text":{"value":"▼"}}},
{"mark":{"type":"text","align":"left","baseline":"middle","fontSize":9.5,"color":"#000000"},
 "encoding":{"x":{"datum":8.5,"type":"quantitative","axis":null},"y":{"datum":0.68149,"type":"quantitative","axis":null},"text":{"value":"AUDUSD,H1\u00a0 0.65517 0.65559 0.65466 0.65502"}}}
]
}
